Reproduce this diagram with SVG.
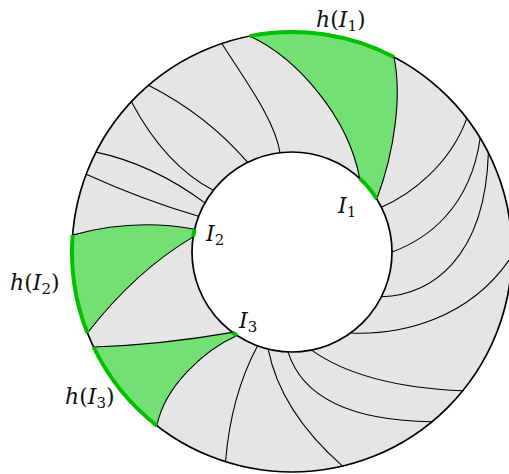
<svg xmlns="http://www.w3.org/2000/svg" width="509" height="474" viewBox="0 0 509 474">
<style>
.ann{fill:#e5e5e5;fill-rule:evenodd;stroke:none}
.reg{fill:#73e073;stroke:none}
.cv{fill:none;stroke:#000;stroke-width:1.1}
.circ{fill:none;stroke:#000;stroke-width:1.7}
.gr{fill:none;stroke:#00c000;stroke-width:4;stroke-linecap:butt}
.lb{font-size:22px;fill:#111}
.it{font-style:italic}
.sub{font-size:15px;font-style:normal}
</style>
<rect width="509" height="474" fill="#fff"/>
<g id="annulus">
<path class="ann" d="M512,252 A220,220 0 1 0 72,252 A220,220 0 1 0 512,252 Z M392,252 A100,100 0 1 0 192,252 A100,100 0 1 0 392,252 Z"/>
</g>
<g id="regions">
<path id="region-I1" class="reg" d="M249.6,36.1 A220,220 0 0 1 393.9,57 C402,95 395,150 376.8,199 A100,100 0 0 0 359.7,178.4 C348,115 295,57 249.6,36.1 Z"/>
<path id="region-I2" class="reg" d="M72.65,235.1 Q133,218 194.6,229.2 A100,100 0 0 0 193.2,236.9 Q135.5,271 87.4,333 A220,220 0 0 1 72.65,235.1 Z"/>
<path id="region-I3" class="reg" d="M93.6,347 Q160,345 232.5,332.4 A100,100 0 0 0 237,335.5 C205,350 165,385 156.9,425.6 A220,220 0 0 1 93.6,347 Z"/>
</g>
<g id="connectors">
<path class="cv" d="M221.8,43.5 C245,80 275,120 280,152.7"/>
<path class="cv" d="M148.5,85.2 Q207,115 247.7,162.4"/>
<path class="cv" d="M131.4,101.7 Q165,165 213.3,190.3"/>
<path class="cv" d="M96,152.1 Q152.5,164 204.9,202.9"/>
<path class="cv" d="M86.2,174.2 Q143,200 198.6,216.2"/>
<path class="cv" d="M257.5,345.9 Q231,395 225.5,461.7"/>
<path class="cv" d="M268.2,349.1 Q280.5,411.5 342.6,466.1"/>
<path class="cv" d="M288,351.9 Q309.5,420 431.9,421.8"/>
<path class="cv" d="M311.6,350.1 Q362.5,386.5 462.7,390.8"/>
<path class="cv" d="M350.6,333 C400,335 470,320 512,255.8"/>
<path class="cv" d="M381.4,296.8 C430,295 485,260 488.4,152.8"/>
<path class="cv" d="M392,252 C425,240 470,210 480.2,138"/>
<path class="cv" d="M381.4,207.2 C410,195 450,165 466.8,118.4"/>
<path class="cv" d="M249.6,36.1 C295,57 348,115 359.7,178.4"/>
<path class="cv" d="M393.9,57 C402,95 395,150 376.8,199"/>
<path class="cv" d="M72.65,235.1 Q133,218 194.6,229.2"/>
<path class="cv" d="M193.2,236.9 Q135.5,271 87.4,333"/>
<path class="cv" d="M93.6,347 Q160,345 232.5,332.4"/>
<path class="cv" d="M237,335.5 C205,350 165,385 156.9,425.6"/>
</g>
<g id="circles">
<circle class="circ" cx="292" cy="252" r="220"/>
<circle class="circ" cx="292" cy="252" r="100"/>
</g>
<g id="green-arcs">
<path class="gr" d="M249.6,36.1 A220,220 0 0 1 393.9,57"/>
<path class="gr" d="M359.7,178.4 A100,100 0 0 1 376.8,199"/>
<path class="gr" d="M72.65,235.1 A220,220 0 0 0 87.4,333"/>
<path class="gr" d="M194.6,229.2 A100,100 0 0 0 193.2,236.9"/>
<path class="gr" d="M93.6,347 A220,220 0 0 0 156.9,425.6"/>
<path class="gr" d="M232.5,332.4 A100,100 0 0 0 237,335.5"/>
</g>
<g id="labels" font-family="'DejaVu Serif', 'Liberation Serif', serif">
<text class="lb" x="316" y="27"><tspan class="it">h</tspan>(<tspan class="it">I</tspan><tspan class="sub" dy="4">1</tspan><tspan dy="-4">)</tspan></text>
<text class="lb" x="10" y="290"><tspan class="it">h</tspan>(<tspan class="it">I</tspan><tspan class="sub" dy="4">2</tspan><tspan dy="-4">)</tspan></text>
<text class="lb" x="65" y="404"><tspan class="it">h</tspan>(<tspan class="it">I</tspan><tspan class="sub" dy="4">3</tspan><tspan dy="-4">)</tspan></text>
<text class="lb" x="338" y="213"><tspan class="it">I</tspan><tspan class="sub" dy="4">1</tspan></text>
<text class="lb" x="206" y="241"><tspan class="it">I</tspan><tspan class="sub" dy="4">2</tspan></text>
<text class="lb" x="239" y="328"><tspan class="it">I</tspan><tspan class="sub" dy="4">3</tspan></text>
</g>
</svg>
